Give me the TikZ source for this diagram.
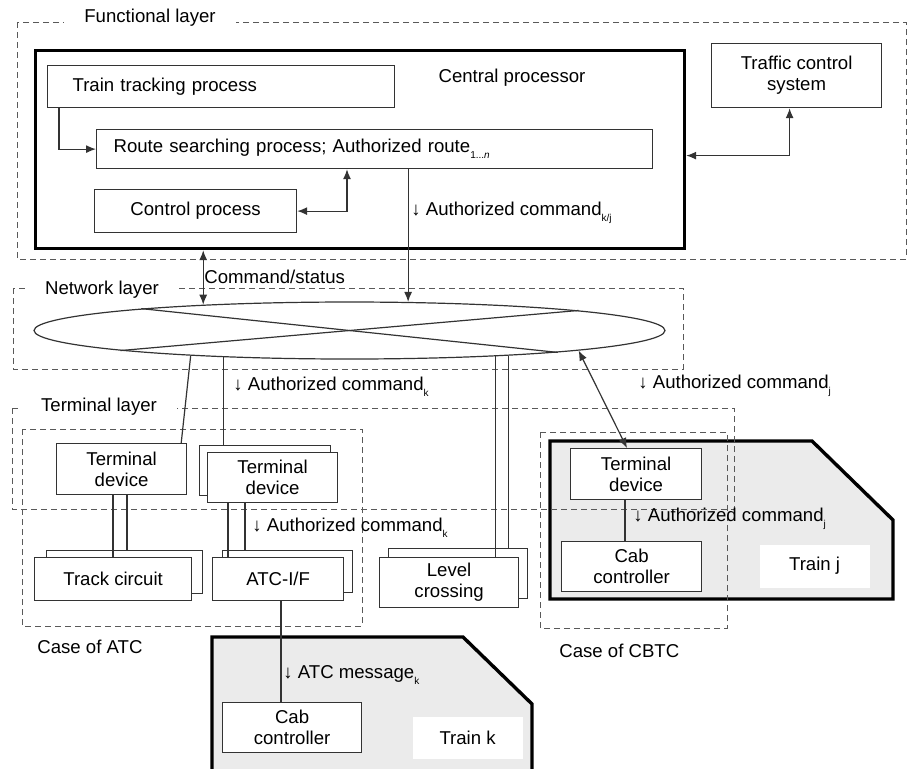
\documentclass[tikz,border=0pt]{standalone}
\usepackage{fontspec}
\setmainfont{Liberation Sans}
\usepackage{tikz}
\usetikzlibrary{positioning, arrows.meta, shapes.geometric}
\definecolor{ln}{rgb}{0.2, 0.2, 0.2}
\definecolor{dsh}{rgb}{0.35, 0.35, 0.35}
\definecolor{trainfill}{rgb}{0.92, 0.92, 0.92}
\newcommand{\idx}[1]{\raisebox{-0.6ex}{\fontsize{5}{5}\selectfont #1}}

\begin{document}
\begin{tikzpicture}[x=0.5pt, y=-0.5pt,
                    every node/.style = {text=black, font=\fontsize{9.3}{10.5}\selectfont, inner sep=0pt},
                    box/.style = {draw=ln, fill=white, line width=0.6pt, anchor=north west, align=center},
                    wh/.style 2 args = {minimum width=#1*0.5pt, minimum height=#2*0.5pt},
                    layer/.style = {draw=dsh, dash pattern=on 3pt off 2pt, line width=0.5pt},
                    tag/.style = {fill=white, inner xsep=10pt, inner ysep=1pt},
                    note/.style = {anchor=west},
                    train/.style = {draw=black, fill=trainfill, line width=1.7pt, line join=miter},
                    wire/.style = {draw=ln, line width=0.6pt},
                    arr/.style = {wire, -{Latex[length=5pt,width=4pt]}},
                    arr2/.style = {wire, {Latex[length=5pt,width=4pt]}-{Latex[length=5pt,width=4pt]}}]
                \useasboundingbox (0,0) rectangle (908,768);
                \clip (0,0) rectangle (908,768);
                \draw[train] (212,800) -- (212,637) -- (463,637) -- (532,704) -- (532,800);
                \draw[train] (550,441) -- (812,441) -- (893,520) -- (893,599) -- (550,599) -- cycle;
                \draw[layer] (17,22) rectangle (906,259);
                \draw[layer] (13,288) rectangle (683,369);
                \draw[layer] (12,408) rectangle (734,509);
                \draw[layer] (22,429) rectangle (362,626);
                \draw[layer] (540,432) rectangle (727,628);
                \node[tag] (funtag)  at (150,18)  {Functional layer};
                \node[tag] (nettag)  at (102,290) {Network layer};
                \node[tag] (termtag) at (99,407)  {Terminal layer};
                \node[box, wh={649}{198}, line width=1.6pt, draw=black, fill=none] (cp) at (34,49) {};
                \node (cptitle) at (512,78) {Central processor};
                \node[box, wh={347}{42}, text width=148.5pt, inner xsep=12.5pt, align=left] (track) at (47,65) {Train tracking process};
                \node[box, wh={556}{39}, text width=261pt, inner xsep=8.5pt, align=left] (route) at (96,129) {Route searching process; Authorized route\idx{1...\textit{n}}};
                \node[box, wh={202}{43}] (control) at (94,189)  {Control process};
                \node[box, wh={170}{64}] (tcs)     at (711,43)  {Traffic control\\system};
                \node[ellipse, draw=ln, fill=white, line width=0.6pt, wh={631}{57}] (net) at (349.5,330.5) {};
                \draw[wire] (net.174.8) -- (net.354.7);
                \draw[wire] (net.185.2) -- (net.5.3);
                \node[box, wh={130}{51}] (termA)  at (56,443)  {Terminal\\device};
                \node[box, wh={131}{50}] (termBb) at (199,445) {};
                \node[box, wh={130}{50}] (termB)  at (207,452) {Terminal\\device};
                \node[box, wh={156}{43}] (trackb) at (46,550)  {};
                \node[box, wh={157}{43}] (trackc) at (34,557)  {Track circuit};
                \node[box, wh={130}{42}] (atcb)   at (222,550) {};
                \node[box, wh={131}{43}] (atc)    at (212,557) {ATC-I/F};
                \node[box, wh={139}{50}] (levelb) at (388,548) {};
                \node[box, wh={139}{50}] (level)  at (379,557) {Level\\crossing};
                \node[box, wh={131}{51}] (termj)  at (570,448) {Terminal\\device};
                \node[box, wh={140}{50}] (cabj)   at (561,541) {Cab\\controller};
                \node[box, wh={139}{50}] (cabk)   at (222,702) {Cab\\controller};
                \node[box, draw=none, wh={110}{43}] (trainj) at (759,544) {Train j};
                \node[box, draw=none, wh={110}{42}] (traink) at (412,716) {Train k};
                \coordinate (tA1)    at ([xshift=28.5pt]termA.south west);
                \coordinate (tA2)    at ([xshift=35.5pt]termA.south west);
                \coordinate (tB1)    at ([xshift=10.5pt]termB.south west);
                \coordinate (tB2)    at ([xshift=19pt]termB.south west);
                \coordinate (atcout) at ([xshift=34.5pt]atc.south west);
                \coordinate (tjout)  at ([xshift=27.5pt]termj.south west);
                \draw[arr]  ([xshift=6pt]track.south west) |- (route.west);
                \draw[arr2] (control.east) -| ([xshift=125.5pt]route.south west);
                \draw[arr2] ([yshift=-3pt]cp.east) -| ([xshift=-3.5pt]tcs.south);
                \draw[arr]  (net.26.4 |- route.south) -- (net.26.4);
                \draw[arr2] (net.170.6 |- cp.south) -- (net.170.6);
                \draw[wire] (net.189) -- ([xshift=-3pt]termA.north east);
                \draw[wire] (net.192.2) -- (net.192.2 |- termBb.north);
                \draw[wire] (net.350.7) -- (net.350.7 |- level.north);
                \draw[wire] (net.351.8) -- (net.351.8 |- levelb.north);
                \draw[arr2] (net.355.1) -- ([xshift=28.5pt]termj.north west);
                \draw[wire] (tA1) -- (tA1 |- trackc.north);
                \draw[wire] (tA2) -- (tA2 |- trackb.north);
                \draw[wire] (tB1) -- (tB1 |- atc.north);
                \draw[wire] (tB2) -- (tB2 |- atcb.north);
                \draw[wire] (atcout) -- (atcout |- cabk.north);
                \draw[wire] (tjout) -- (tjout |- cabj.north);
                \node[note] (cmdkj)     at (411,213) {↓ Authorized command\idx{k/j}};
                \node[note] (cmdstatus) at (204,277) {Command/status};
                \node[note] (cmdk1)     at (233,387) {↓ Authorized command\idx{k}};
                \node[note] (cmdj1)     at (638,386) {↓ Authorized command\idx{j}};
                \node[note] (cmdk2)     at (252,528) {↓ Authorized command\idx{k}};
                \node[note] (cmdj2)     at (633,519) {↓ Authorized command\idx{j}};
                \node[note] (atcmsg)    at (283,675) {↓ ATC message\idx{k}};
                \node[note] (caseatc)   at (37,647)  {Case of ATC};
                \node[note] (casecbtc)  at (559,651) {Case of CBTC};
            \end{tikzpicture}
\end{document}
